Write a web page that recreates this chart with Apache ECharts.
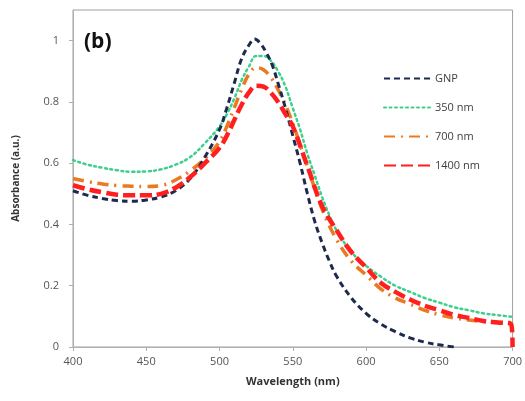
<!DOCTYPE html>
<html>
<head>
<meta charset="utf-8">
<script src="https://cdn.jsdelivr.net/npm/echarts@6/dist/echarts.min.js"></script>
<style>html,body{margin:0;padding:0;background:#fff}#c{width:525px;height:401px}</style>
</head>
<body>
<div id="c"></div>
<script>
var seriesNames = ['GNP', '350 nm', '700 nm', '1400 nm'];
var xTicks = [400, 450, 500, 550, 600, 650, 700];
var yTicks = [0, 0.2, 0.4, 0.6, 0.8, 1];

var gnpX = [400,410,420,430,440,450,460,470,480,490,500,505,510,515,520,524,528,532,536,540,545,550,555,560,565,570,575,580,590,600,610,620,630,640,650,660];
var gnpY = [0.51,0.495,0.485,0.478,0.476,0.48,0.49,0.51,0.55,0.62,0.71,0.78,0.86,0.94,0.985,1.005,0.99,0.96,0.92,0.86,0.78,0.69,0.60,0.50,0.41,0.34,0.28,0.23,0.16,0.11,0.075,0.05,0.03,0.016,0.007,0.0];

var g350X = [400,410,420,430,440,450,460,470,480,490,500,505,510,515,520,525,530,535,540,545,550,555,560,565,570,575,580,590,600,610,620,630,640,650,660,670,680,690,700];
var g350Y = [0.61,0.595,0.585,0.577,0.572,0.573,0.58,0.595,0.62,0.665,0.72,0.76,0.81,0.87,0.915,0.95,0.95,0.935,0.90,0.85,0.78,0.71,0.63,0.56,0.49,0.43,0.38,0.31,0.265,0.23,0.20,0.18,0.16,0.145,0.13,0.12,0.11,0.104,0.098];

var g700X = [400,410,420,430,440,450,460,470,480,490,500,505,510,515,520,525,530,535,540,545,550,555,560,570,580,590,600,610,620,630,640,650,660,670,680,690,700];
var g700Y = [0.55,0.54,0.532,0.527,0.525,0.524,0.527,0.545,0.575,0.615,0.67,0.72,0.78,0.84,0.89,0.912,0.905,0.88,0.84,0.79,0.73,0.66,0.59,0.45,0.35,0.28,0.235,0.19,0.16,0.14,0.12,0.105,0.095,0.088,0.083,0.08,0.08];

var g1400X = [400,410,420,430,440,450,460,470,480,490,500,505,510,515,520,525,530,535,540,545,550,560,570,580,590,600,610,620,630,640,650,660,670,680,690,699,700];
var g1400Y = [0.528,0.515,0.505,0.497,0.495,0.495,0.50,0.52,0.555,0.60,0.65,0.69,0.74,0.79,0.83,0.853,0.85,0.83,0.80,0.76,0.72,0.59,0.46,0.38,0.31,0.26,0.21,0.18,0.155,0.135,0.12,0.105,0.095,0.085,0.08,0.075,0.0];

function pairs(xs, ys) { return xs.map(function (x, i) { return [x, ys[i]]; }); }

var chart = echarts.init(document.getElementById('c'), null, {renderer: 'canvas'});
var font = 'Open Sans';
chart.setOption({
  animation: false,
  backgroundColor: '#fff',
  grid: {left: 73, right: 12, top: 10, bottom: 54, show: true, borderColor: '#a0a0a0', borderWidth: 1, backgroundColor: 'transparent'},
  title: {text: '(b)', left: 79, top: 27, textStyle: {fontFamily: font, fontWeight: 'bold', fontSize: 21, color: '#111'}},
  legend: {
    orient: 'vertical', left: 378, top: 68, itemWidth: 46, itemHeight: 10, itemGap: 18,
    itemStyle: {opacity: 0},
    textStyle: {fontFamily: font, fontSize: 11, color: '#404040'},
    data: seriesNames
  },
  xAxis: {
    type: 'value', min: 400, max: 700, interval: 50,
    name: 'Wavelength (nm)', nameLocation: 'middle', nameGap: 29,
    nameTextStyle: {fontFamily: font, fontWeight: 'bold', fontSize: 11, color: '#333'},
    axisLine: {lineStyle: {color: '#b0b0b0', width: 1}},
    axisTick: {show: true, length: 4, lineStyle: {color: '#b0b0b0'}},
    axisLabel: {fontFamily: font, fontSize: 11, color: '#555', margin: 9},
    splitLine: {show: false}
  },
  yAxis: {
    type: 'value', min: 0, max: 1.1, interval: 0.2,
    name: 'Absorbance (a.u.)', nameLocation: 'middle', nameGap: 52,
    nameTextStyle: {fontFamily: font, fontWeight: 'bold', fontSize: 10, color: '#333'},
    axisLine: {show: true, lineStyle: {color: '#b0b0b0', width: 1}},
    axisTick: {show: true, length: 4, lineStyle: {color: '#b0b0b0'}},
    axisLabel: {fontFamily: font, fontSize: 11, color: '#555', margin: 14, showMaxLabel: false,
      formatter: function (v) { return yTicks.indexOf(Math.round(v * 10) / 10) >= 0 ? String(Math.round(v * 10) / 10) : ''; }},
    splitLine: {show: false}
  },
  series: [
    {name: seriesNames[1], type: 'line', smooth: 0.4, showSymbol: false, symbol: 'none', data: pairs(g350X, g350Y),
      lineStyle: {color: '#3ccf8e', width: 2.5, type: [2, 3.5], cap: 'round'}, itemStyle: {color: '#3ccf8e'}},
    {name: seriesNames[2], type: 'line', smooth: 0.4, showSymbol: false, symbol: 'none', data: pairs(g700X, g700Y),
      lineStyle: {color: '#ea7a22', width: 3.5, type: [11, 6, 2, 6]}, itemStyle: {color: '#ea7a22'}},
    {name: seriesNames[0], type: 'line', smooth: 0.4, showSymbol: false, symbol: 'none', data: pairs(gnpX, gnpY),
      lineStyle: {color: '#1d2a4d', width: 3, type: [6, 4]}, itemStyle: {color: '#1d2a4d'}},
    {name: seriesNames[3], type: 'line', smooth: 0.4, showSymbol: false, symbol: 'none', data: pairs(g1400X, g1400Y),
      lineStyle: {color: '#ff1f1f', width: 4.5, type: [12, 5]}, itemStyle: {color: '#ff1f1f'}}
  ]
});
</script>
</body>
</html>
